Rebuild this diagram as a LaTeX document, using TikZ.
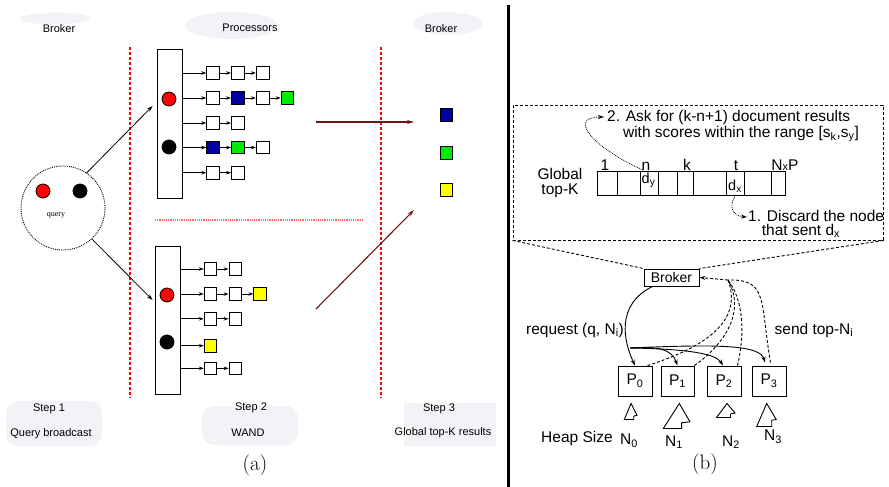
\documentclass[tikz,border=0pt]{standalone}
\usepackage{fontspec}
\newfontfamily\arial{Liberation Sans}
\newfontfamily\tms{Liberation Serif}
\usetikzlibrary{arrows.meta,calc}
\definecolor{bgc}{RGB}{244,242,247}
\definecolor{qblue}{RGB}{0,0,160}
\definecolor{qgreen}{RGB}{0,235,0}
\definecolor{qyellow}{RGB}{255,255,0}
\definecolor{maroonc}{RGB}{110,20,20}
\begin{document}
\begin{tikzpicture}[x=1pt,y=-1pt,
  lab/.style={font=\arial\fontsize{11}{13}\selectfont, inner sep=0},
  rlab/.style={font=\arial\fontsize{15.5}{15}\selectfont, inner sep=0},
  cell/.style={draw, line width=0.8pt, minimum width=12.6pt, minimum height=12.6pt, inner sep=0},
  proc/.style={draw, line width=0.9pt, minimum width=25pt, minimum height=148pt, inner sep=0},
  chain/.style={-{Stealth[length=5pt,width=3.5pt]}, line width=0.8pt},
  dotc/.style={circle, draw, line width=0.8pt, minimum size=14pt, inner sep=0},
  redline/.style={red, line width=1.3pt, densely dashed},
  maroonarrow/.style={maroonc, line width=1.1pt, -{Stealth[length=7pt,width=4pt]}},
  bgbox/.style={fill=bgc, draw=none},
  arr/.style={draw, line width=0.9pt, minimum height=24pt, inner sep=0, anchor=west},
  pbox/.style={draw, line width=0.9pt, minimum width=34pt, minimum height=30pt, inner sep=0, font=\arial\fontsize{15.5}{15}\selectfont},
  dashb/.style={line width=0.9pt, dash pattern=on 3pt off 2pt},
  rarrow/.style={line width=0.9pt, -{Stealth[length=6pt,width=4pt]}},
  heap/.style={draw, line width=0.9pt, fill=white, line join=miter}
]
\useasboundingbox (0,0) rectangle (889,487);

% ---------------- panel (a) ----------------
\fill[bgc] (55,18.5) ellipse [x radius=35, y radius=6];
\fill[bgc] (231.5,25.5) ellipse [x radius=46.5, y radius=13.5];
\fill[bgc] (447.5,23.5) ellipse [x radius=34.5, y radius=11.5];
\node[lab] (hb1) at (59,29) {Broker};
\node[lab] (hp) at (250,28) {Processors};
\node[lab] (hb2) at (441,29) {Broker};

\draw[redline] (130,47) -- (130,398);
\draw[redline] (381,47) -- (381,398);
\draw[red!60, line width=1.2pt, densely dotted] (155,220) -- (363,220);

% query
\node[circle, draw, densely dotted, line width=0.9pt, minimum size=84pt, inner sep=0] (Q) at (63,208) {};
\node[dotc, fill=red] (qr) at (43,191) {};
\node[dotc, fill=black] (qk) at (80,191) {};
\node[font=\tms\fontsize{8}{8}\selectfont, inner sep=0] (ql) at (56,215) {query};

% upper processor
\node[proc, minimum height=149pt] (U) at (169.5,123.5) {};
\node[dotc, fill=red] (ur) at (169,99) {};
\node[dotc, fill=black] (uk) at (169,147) {};
\foreach \r/\yy/\cols in {1/73/{white,white,white}, 2/98/{white,qblue,white,qgreen}, 3/123/{white,white}, 4/147.5/{qblue,qgreen,white}, 5/172.7/{white,white}} {
  \foreach \c [count=\i, remember=\i as \j (initially 0)] in \cols {
    \node[cell, fill=\c] (u\r\i) at ({213+24.8*(\i-1)},\yy) {};
    \ifnum\j=0
      \draw[chain] (U.east |- u\r\i.center) -- (u\r\i.west);
    \else
      \draw[chain] (u\r\j.east) -- (u\r\i.west);
    \fi
  }
}

% lower processor
\node[proc] (L) at (167.5,320) {};
\node[dotc, fill=red] (lr) at (167,295) {};
\node[dotc, fill=black] (lk) at (167,342) {};
\foreach \r/\yy/\cols in {1/269/{white,white}, 2/294/{white,white,qyellow}, 3/318.8/{white,white}, 4/345.7/{qyellow}, 5/368.3/{white,white}} {
  \foreach \c [count=\i, remember=\i as \j (initially 0)] in \cols {
    \node[cell, fill=\c] (l\r\i) at ({210.5+24.8*(\i-1)},\yy) {};
    \ifnum\j=0
      \draw[chain] (L.east |- l\r\i.center) -- (l\r\i.west);
    \else
      \draw[chain] (l\r\j.east) -- (l\r\i.west);
    \fi
  }
}

% query broadcast arrows
\draw[line width=0.8pt, -{Stealth[length=6pt,width=4pt]}] (Q.56) -- ([shift={(-4,-17.5)}]U.west);
\draw[line width=0.8pt, -{Stealth[length=6pt,width=4pt]}] (Q.-47) -- ([shift={(-2,-20)}]L.west);

% results
\node[cell, fill=qblue] (r1) at (446.5,115) {};
\node[cell, fill=qgreen] (r2) at (446.5,153) {};
\node[cell, fill=qyellow] (r3) at (446.5,190) {};
\coordinate (m1s) at (316,122);
\coordinate (m1e) at (414,122);
\coordinate (m2s) at (316,309);
\coordinate (m2e) at (414,210);
\draw[maroonarrow] (m1s) -- (m1e);
\draw[maroonarrow] (m2s) -- (m2e);

% steps
\fill[bgbox, rounded corners=12pt] (6,401) rectangle (102,446);
\fill[bgbox, rounded corners=12pt] (202,406) rectangle (298,445);
\fill[bgbox] (404,403) rectangle (496,446);
\node[lab] (s1) at (49,409) {Step 1};
\node[lab] (s1b) at (51,434) {Query broadcast};
\node[lab] (s2) at (251,408) {Step 2};
\node[lab] (s2b) at (248,433) {WAND};
\node[lab] (s3) at (439,409) {Step 3};
\node[lab] (s3b) at (443,433) {Global top-K results};
\node[font=\fontsize{21}{24}\selectfont, inner sep=0] (capa) at (255,465) {(a)};

% separator
\draw[line width=3pt] (508.5,5) -- (508.5,487);

% ---------------- panel (b) ----------------
\node[draw, dashb, minimum width=370pt, minimum height=135pt, inner sep=0] (DB) at (698,172.5) {};

\node[rlab, anchor=west] (ask1) at (607,117) {2. Ask for (k-n+1) document results};
\node[rlab] (ask2) at (741,134) {with scores within the range [s\textsubscript{k},s\textsubscript{y}]};

\node[rlab, anchor=base] (i1) at (605,170) {1};
\node[rlab, anchor=base] (in) at (646,170) {n};
\node[rlab, anchor=base] (ik) at (687,170) {k};
\node[rlab, anchor=base] (it) at (736,170) {t};
\node[rlab, anchor=base] (iNP) at (785,170) {N{\fontsize{11}{11}\selectfont x}P};
\node[rlab, align=center] (GT) at (560,182.5) {Global\\top-K};

\foreach \a/\b [count=\i] in {597/617,617/640,640/658,658/677,677/693,693/726,726/744,744/771,771/785} {
  \node[arr, minimum width={(\b-\a)*1pt}] (c\i) at (\a,183) {};
}
\node[rlab, font=\arial\fontsize{14.5}{14}\selectfont] (dy) at (648.5,180) {d\textsubscript{y}};
\node[rlab, font=\arial\fontsize{14.5}{14}\selectfont] (dx) at (735,186) {d\textsubscript{x}};

\node[rlab, anchor=west] (dis1) at (748,216) {1. Discard the node};
\node[rlab] (dis2) at (801,231) {that sent d\textsubscript{x}};

\coordinate (askTip) at (604,117);
\coordinate (disTip) at (747,217);
\draw[line width=0.8pt, densely dotted, -{Stealth[length=6pt,width=4pt]}] (643,170) .. controls (597,150) and (565,117) .. (askTip);
\draw[line width=0.8pt, densely dotted, -{Stealth[length=6pt,width=4pt]}] (c7.south) .. controls (728,207) and (733,216) .. (disTip);

% broker and processors
\node[draw, line width=0.9pt, minimum width=55pt, minimum height=17pt, inner sep=0, font=\arial\fontsize{14}{14}\selectfont] (B) at (671.5,277.5) {Broker};
\draw[dashb] (DB.south west) -- (B.north west);
\draw[dashb] (DB.south east) -- (B.north east);

\node[pbox] (P0) at (635,381) {P\textsubscript{0}};
\node[pbox, minimum width=33pt] (P1) at (677.5,381) {P\textsubscript{1}};
\node[pbox] (P2) at (724,381) {P\textsubscript{2}};
\node[pbox] (P3) at (769,381) {P\textsubscript{3}};

\node[rlab] (req) at (575,330) {request (q, N\textsubscript{i})};
\node[rlab] (snd) at (814,330) {send top-N\textsubscript{i}};

% solid requests
\coordinate (fork) at (630,348);
\draw[rarrow] ([xshift=9pt]B.south west) .. controls (615,305) and (624,342) .. (P0.north);
\draw[rarrow] (fork) .. controls (660,346) and (672,350) .. (P1.north);
\draw[rarrow] (fork) .. controls (690,349) and (716,354) .. ([xshift=-1pt]P2.north);
\draw[rarrow] (fork) .. controls (720,344) and (760,345) .. ([xshift=-4pt, yshift=3pt]P3.north);

% dashed responses
\coordinate (gath) at (728,280);
\draw[rarrow, dash pattern=on 3pt off 2pt] (gath) -- (B.east);
\draw[dashb] ([xshift=-5pt]P0.north east) .. controls (712,345) and (742,318) .. (gath);
\draw[dashb] (P1.north east) .. controls (730,340) and (744,308) .. (gath);
\draw[dashb] ([xshift=-4pt]P2.north east) .. controls (746,330) and (742,298) .. (gath);
\draw[dashb] ([xshift=-16pt, yshift=3pt]P3.north east) .. controls (760,300) and (768,279) .. (gath);

% heap sizes
\draw[heap, shift={(631,403.5)}] (0,0) -- (6,11.7) -- (2.7,12.7) -- (2.7,16) -- (-6.7,16) -- cycle;
\draw[heap, shift={(679.3,403.5)}] (0,0) -- (10.7,18.3) -- (2.3,19.3) -- (2.3,25) -- (-16,25) -- cycle;
\draw[heap, shift={(727,403.5)}] (0,0) -- (8,9.5) -- (3.5,10.5) -- (3.5,14) -- (-10.5,14) -- cycle;
\draw[heap, shift={(766.7,403.5)}] (0,0) -- (9.5,16) -- (5,16.7) -- (5,23) -- (-10,23) -- cycle;

\node[rlab] (hs) at (577,438) {Heap Size};
\node[rlab] (N0) at (629,441) {N\textsubscript{0}};
\node[rlab] (N1) at (674,442) {N\textsubscript{1}};
\node[rlab] (N2) at (731,442) {N\textsubscript{2}};
\node[rlab] (N3) at (773,437) {N\textsubscript{3}};

\node[font=\fontsize{21}{24}\selectfont, inner sep=0] (capb) at (705,464) {(b)};
\end{tikzpicture}
\end{document}
